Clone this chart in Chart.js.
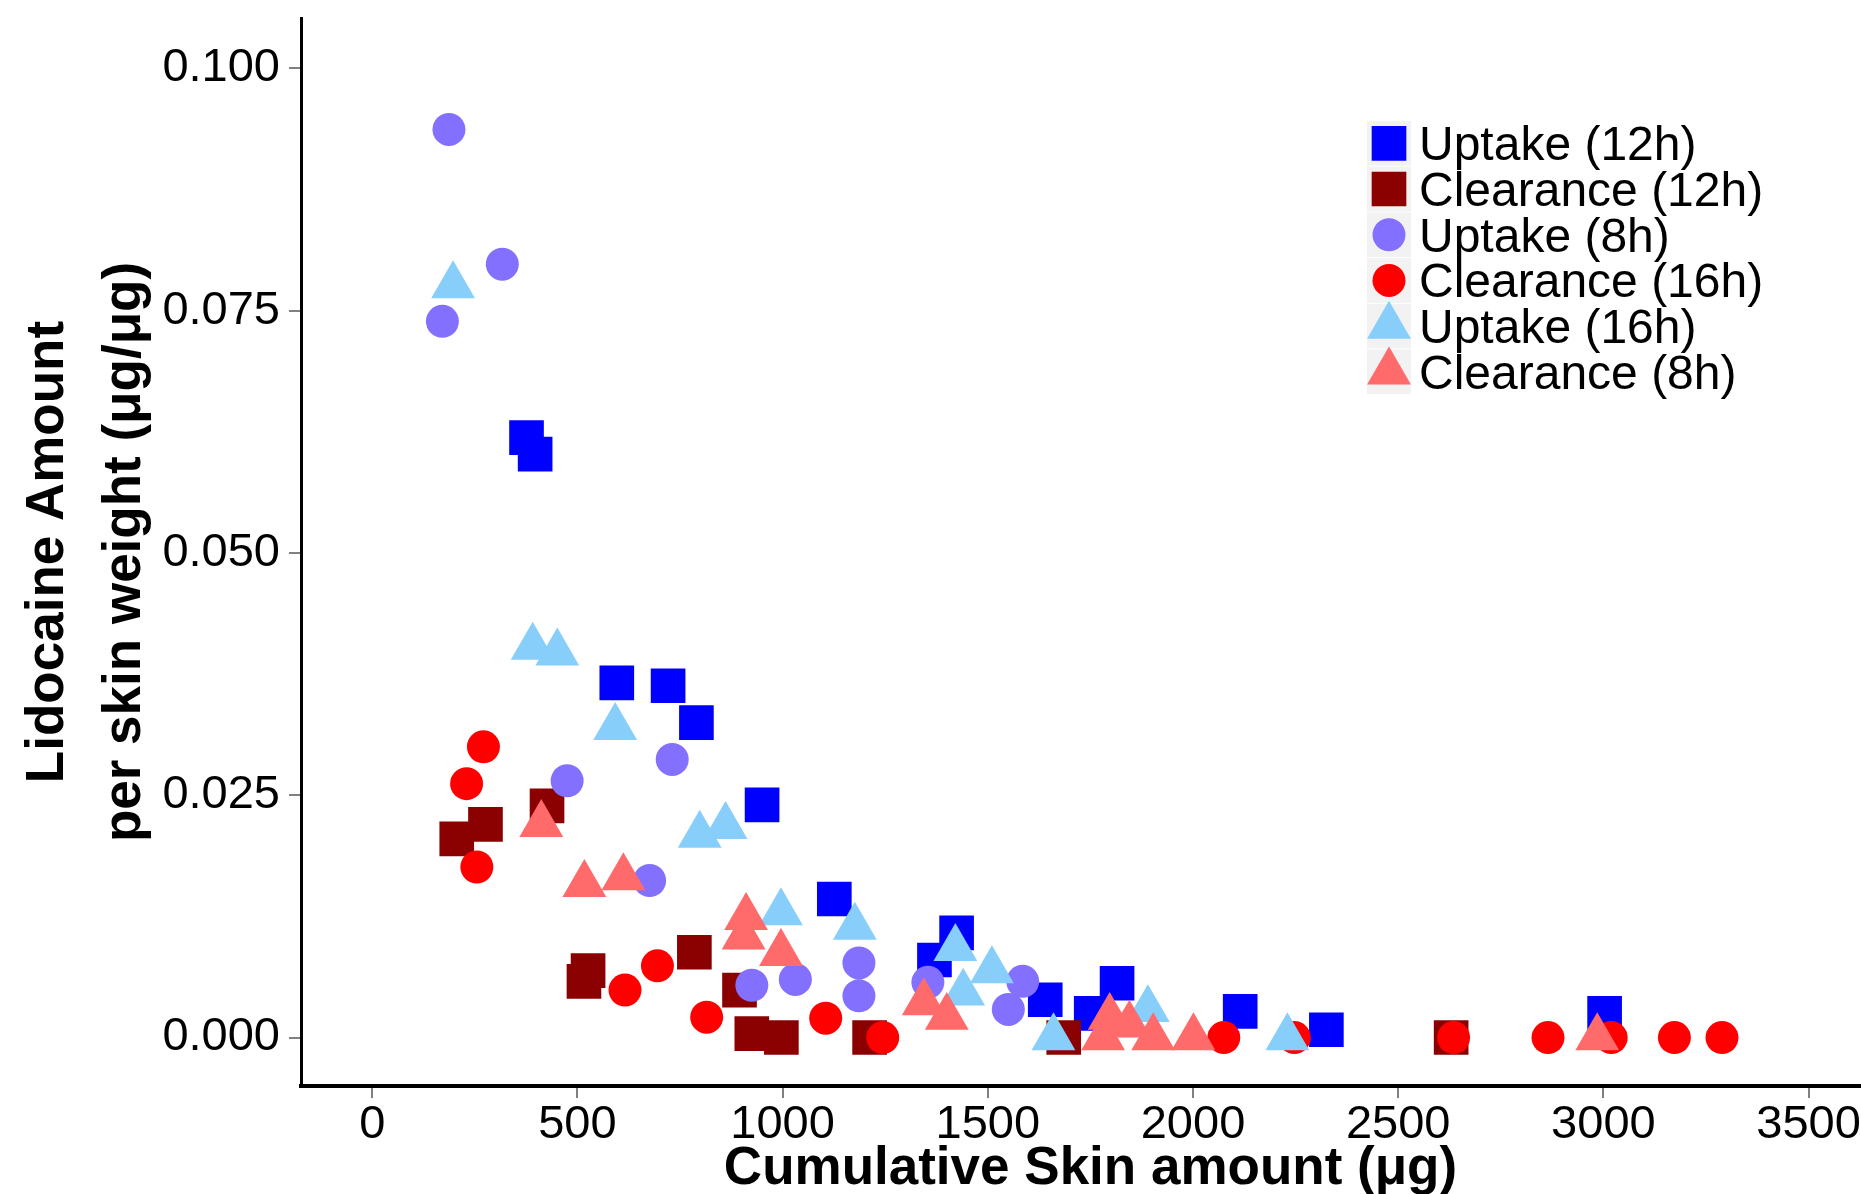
<!DOCTYPE html>
<html>
<head>
<meta charset="utf-8">
<script src="https://cdn.jsdelivr.net/npm/chart.js"></script>
<style>
  html, body { margin: 0; padding: 0; background: #fff; overflow: hidden; }
  /* the original panel runs past the right edge of the figure, so the canvas is a bit wider than the view */
  #wrap { width: 1861px; height: 1194px; overflow: hidden; }
  #chart { display: block; }
</style>
</head>
<body>
<div id="wrap"><canvas id="chart" width="1880" height="1194"></canvas></div>
<script>
// Series data: x = cumulative skin amount (ug), y = lidocaine per skin weight
const seriesLabels = ['Uptake (12h)', 'Clearance (12h)', 'Uptake (8h)', 'Clearance (16h)', 'Uptake (16h)', 'Clearance (8h)'];

const uptake12X = [376, 397, 596, 721, 790, 950, 1126, 1424, 1370, 1640, 1815, 1752, 2115, 2325, 3003];
const uptake12Y = [0.0619, 0.0602, 0.0366, 0.0363, 0.0325, 0.0240, 0.0143, 0.0108, 0.0080, 0.0039, 0.0056, 0.0025, 0.0027, 0.0008, 0.0025];

const clear12X = [206, 276, 426, 516, 526, 785, 895, 925, 997, 1212, 1685, 2629];
const clear12Y = [0.0205, 0.0220, 0.0239, 0.0058, 0.0069, 0.0088, 0.0049, 0.0004, 0.0000, 0.0000, 0.0000, 0.0000];

const uptake8X = [187, 317, 171, 475, 731, 676, 925, 1031, 1186, 1186, 1354, 1585, 1550];
const uptake8Y = [0.0937, 0.0798, 0.0739, 0.0265, 0.0287, 0.0162, 0.0054, 0.0060, 0.0077, 0.0043, 0.0057, 0.0058, 0.0029];

const clear16X = [271, 230, 255, 616, 695, 815, 1105, 1244, 2075, 2247, 2635, 2865, 3019, 3173, 3289];
const clear16Y = [0.0300, 0.0262, 0.0176, 0.0049, 0.0074, 0.0021, 0.0020, 0, 0, 0, 0, 0, 0, 0, 0];

const uptake16X = [197, 391, 451, 592, 798, 861, 996, 1176, 1421, 1510, 1440, 1660, 1890, 2230];
const uptake16Y = [0.0776, 0.0403, 0.0397, 0.0320, 0.0209, 0.0218, 0.0129, 0.0114, 0.0092, 0.0069, 0.0046, 0, 0.0029, 0];

const clear8X = [412, 517, 612, 911, 905, 996, 1344, 1400, 1797, 1845, 1781, 1903, 2001, 2985];
const clear8Y = [0.0220, 0.0158, 0.0165, 0.0124, 0.0104, 0.0087, 0.0036, 0.0021, 0.0021, 0.0013, 0, 0, 0, 0];

const xTickValues = [0, 500, 1000, 1500, 2000, 2500, 3000, 3500];
const xTickLabels = ['0', '500', '1000', '1500', '2000', '2500', '3000', '3500'];
const yTickValues = [0, 0.025, 0.05, 0.075, 0.1];
const yTickLabels = ['0.000', '0.025', '0.050', '0.075', '0.100'];

const xTitle = 'Cumulative Skin amount (μg)';
const yTitle = ['Lidocaine Amount', 'per skin weight (μg/μg)'];

const FONT = '"Liberation Sans", Arial, Helvetica, sans-serif';

function pairUp(xs, ys) {
  return xs.map((x, i) => ({ x: x, y: ys[i] }));
}

const seriesData = [
  pairUp(uptake12X, uptake12Y),
  pairUp(clear12X, clear12Y),
  pairUp(uptake8X, uptake8Y),
  pairUp(clear16X, clear16Y),
  pairUp(uptake16X, uptake16Y),
  pairUp(clear8X, clear8Y)
];
const seriesColors = ['#0000FF', '#8B0000', '#8470FF', '#FF0000', '#87CEFA', '#FF6A6A'];
const seriesShapes = ['rect', 'rect', 'circle', 'circle', 'triangle', 'triangle'];
const shapeRadius = { rect: 24.5, circle: 16.5, triangle: 25.3 };

const datasets = seriesLabels.map((label, i) => ({
  label: label,
  data: seriesData[i],
  pointStyle: seriesShapes[i],
  pointRadius: shapeRadius[seriesShapes[i]],
  pointHoverRadius: shapeRadius[seriesShapes[i]],
  backgroundColor: seriesColors[i],
  borderColor: seriesColors[i],
  pointBorderWidth: 0,
  borderWidth: 0,
  // later series are painted on top
  order: seriesLabels.length - i
}));

function drawMarker(ctx, style, cx, cy, r, color) {
  ctx.fillStyle = color;
  ctx.beginPath();
  if (style === 'circle') {
    ctx.arc(cx, cy, r, 0, Math.PI * 2);
  } else if (style === 'rect') {
    const h = r * Math.SQRT1_2;
    ctx.rect(cx - h, cy - h, 2 * h, 2 * h);
  } else {
    for (let k = 0; k < 3; k++) {
      const a = k * 2 * Math.PI / 3;
      const px = cx + Math.sin(a) * r;
      const py = cy - Math.cos(a) * r;
      if (k === 0) ctx.moveTo(px, py); else ctx.lineTo(px, py);
    }
    ctx.closePath();
  }
  ctx.fill();
}

// ggplot-style legend with grey key boxes, drawn inside the panel
const keyLegend = {
  id: 'keyLegend',
  afterDraw(chart) {
    const ctx = chart.ctx;
    const x0 = 1367, y0 = 120.5, keyW = 44, keyH = 45.7;
    ctx.save();
    chart.data.datasets.forEach((ds, i) => {
      const top = y0 + i * keyH;
      ctx.fillStyle = '#F2F2F2';
      ctx.fillRect(x0, top + 0.5, keyW, keyH - 1);
      const cx = x0 + keyW / 2;
      const cy = top + keyH / 2;
      drawMarker(ctx, ds.pointStyle, cx, cy, ds.pointRadius, ds.backgroundColor);
      ctx.fillStyle = '#000';
      ctx.font = '48px ' + FONT;
      ctx.textAlign = 'left';
      ctx.textBaseline = 'alphabetic';
      ctx.fillText(ds.label, 1419, cy + 17);
    });
    ctx.restore();
  }
};

// drop the label overhang padding so the panel edges sit where the figure has them
function noOverhang(s) {
  s.paddingTop = 0;
  s.paddingBottom = 0;
  s.paddingLeft = 0;
  s.paddingRight = 0;
}

const ctx = document.getElementById('chart').getContext('2d');
new Chart(ctx, {
  type: 'scatter',
  data: { datasets: datasets },
  plugins: [keyLegend],
  options: {
    responsive: false,
    animation: false,
    events: [],
    devicePixelRatio: 1,
    layout: { autoPadding: false, padding: { top: 18, right: 0, bottom: 0, left: 0 } },
    plugins: {
      legend: { display: false },
      tooltip: { enabled: false }
    },
    scales: {
      x: {
        type: 'linear',
        min: -173.5,
        max: 3674,
        afterBuildTicks: s => { s.ticks = xTickValues.map(v => ({ value: v })); },
        afterFit: s => { s.height = 108; noOverhang(s); },
        grid: { drawOnChartArea: false, drawTicks: true, tickLength: 12, color: '#808080', lineWidth: 2 },
        border: { display: true, color: '#000', width: 4 },
        ticks: {
          color: '#000',
          font: { family: FONT, size: 47 },
          padding: -1,
          maxRotation: 0,
          autoSkip: false,
          callback: (v, i) => xTickLabels[i]
        },
        title: {
          display: true,
          text: xTitle,
          color: '#000',
          font: { family: FONT, size: 53, weight: 'bold', lineHeight: 1 },
          padding: { top: 0, bottom: -2 }
        }
      },
      y: {
        type: 'linear',
        min: -0.0050,
        max: 0.1052,
        afterBuildTicks: s => { s.ticks = yTickValues.map(v => ({ value: v })); },
        afterFit: s => { s.width = 301; noOverhang(s); },
        grid: { drawOnChartArea: false, drawTicks: true, tickLength: 12, color: '#808080', lineWidth: 2 },
        border: { display: true, color: '#000', width: 3 },
        ticks: {
          color: '#000',
          font: { family: FONT, size: 47 },
          padding: 9,
          autoSkip: false,
          callback: (v, i) => yTickLabels[i]
        },
        title: {
          display: true,
          text: yTitle,
          color: '#000',
          font: { family: FONT, size: 53, weight: 'bold', lineHeight: 1.45 },
          padding: { top: 10, bottom: 0 }
        }
      }
    }
  }
});
</script>
</body>
</html>
